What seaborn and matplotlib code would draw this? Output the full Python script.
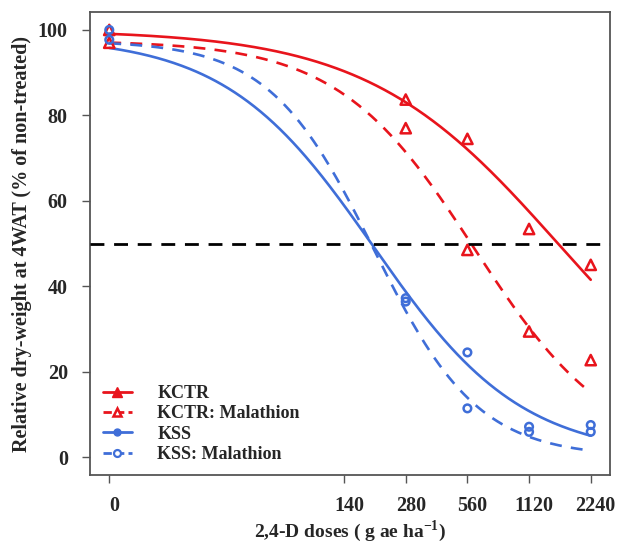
import numpy as np
import pandas as pd
import matplotlib
matplotlib.use("Agg")
import matplotlib.pyplot as plt
import matplotlib.transforms as mtransforms
from matplotlib.lines import Line2D
import seaborn as sns

# Observed means (% of non-treated) at each 2,4-D dose
doses = [0, 280, 560, 1120, 2240]
kctr = [100.0, 83.7, 74.5, 53.4, 45.0]
kctr_mal = [97.0, 77.0, 48.5, 29.4, 22.7]
kss = [100.0, 37.2, 24.5, 7.1, 7.5]
kss_mal = [97.7, 36.4, 11.4, 5.9, 5.9]

# Three-parameter log-logistic fits: upper limit, slope, ED50
groups = ["KCTR", "KCTR: Malathion", "KSS", "KSS: Malathion"]
upper = [100.0, 97.5, 98.5, 97.5]
slope = [0.93, 1.30, 1.20, 1.70]
ed50 = [1549.0, 607.0, 195.0, 195.0]

tick_doses = [0, 140, 280, 560, 1120, 2240]
zero_pos = 10.0  # where the untreated control sits on the log axis

RED = "#E8141C"
BLUE = "#3F6ED8"
colors = [RED, RED, BLUE, BLUE]
styles = ["-", (0, (4.5, 3.5)), "-", (0, (4.5, 3.5))]
markers = ["^", "^", "o", "o"]
observed = [kctr, kctr_mal, kss, kss_mal]

sns.set_style("ticks")
plt.rcParams["font.family"] = ["Liberation Serif", "DejaVu Serif"]
plt.rcParams["font.weight"] = "bold"
plt.rcParams["mathtext.fontset"] = "custom"
plt.rcParams["mathtext.rm"] = "Liberation Serif:bold"
plt.rcParams["mathtext.bf"] = "Liberation Serif:bold"

fig = plt.figure(figsize=(6.31, 5.43), dpi=100)
ax = fig.add_axes([90 / 631, 1 - 475 / 543, 520 / 631, 463 / 543])

def dose_axis(d):
    d = np.asarray(d, dtype=float)
    return np.where(d == 0, zero_pos, d)

grid = np.logspace(np.log10(zero_pos), np.log10(2240), 300)
for g, c, ls, d, b, e in zip(groups, colors, styles, upper, slope, ed50):
    fit = d / (1 + (grid / e) ** b)
    sns.lineplot(x=grid, y=fit, ax=ax, color=c, linestyle=ls, linewidth=1.9,
                 estimator=None, sort=False)

for g, c, m, obs in zip(groups, colors, markers, observed):
    df = pd.DataFrame({"dose": dose_axis(doses), "y": obs})
    size = 55 if m == "^" else 30
    sns.scatterplot(data=df, x="dose", y="y", ax=ax, marker=m, s=size,
                    facecolor="none", edgecolor=c, linewidth=1.8, zorder=4)

ax.axhline(50, color="black", linestyle=(0, (5, 3.5)), linewidth=2.0, zorder=3)

ax.set_xscale("log")
lo, hi = np.log10(zero_pos), np.log10(2240)
pad = 0.04 * (hi - lo)
ax.set_xlim(10 ** (lo - pad), 10 ** (hi + pad))
ax.set_ylim(-4.2, 104.2)
ax.set_xticks(dose_axis(tick_doses))
ax.set_xticklabels([str(t) for t in tick_doses])
ax.xaxis.set_minor_locator(matplotlib.ticker.NullLocator())
ax.set_yticks([0, 20, 40, 60, 80, 100])

ax.tick_params(axis="both", length=6, width=1.0, color="#555555",
               labelsize=14.5, pad=10)
ax.tick_params(axis="x", pad=9)
for lab in ax.get_xticklabels() + ax.get_yticklabels():
    lab.set_fontweight("bold")
shift = mtransforms.ScaledTranslation(5 / 100, 0, fig.dpi_scale_trans)
for lab in ax.get_xticklabels():
    lab.set_transform(lab.get_transform() + shift)

for sp in ax.spines.values():
    sp.set_color("#555555")
    sp.set_linewidth(1.3)

ax.set_xlabel(r"2,4-D doses ( g ae ha$^{-1}$)", fontsize=14, fontweight="bold",
              labelpad=1.5)
ax.set_ylabel("Relative dry-weight at 4WAT (% of non-treated)", fontsize=14.5,
              fontweight="bold", labelpad=4)

handles = [
    Line2D([], [], color=RED, linestyle="-", linewidth=2, marker="^",
           markersize=7, markerfacecolor=RED, markeredgecolor=RED),
    Line2D([], [], color=RED, linestyle=(0, (3, 1.5)), linewidth=2, marker="^",
           markersize=6, markerfacecolor="white", markeredgecolor=RED,
           markeredgewidth=1.8),
    Line2D([], [], color=BLUE, linestyle="-", linewidth=2, marker="o",
           markersize=5, markerfacecolor=BLUE, markeredgecolor=BLUE),
    Line2D([], [], color=BLUE, linestyle=(0, (3, 1.5)), linewidth=2, marker="o",
           markersize=5, markerfacecolor="white", markeredgecolor=BLUE,
           markeredgewidth=1.6),
]
leg = ax.legend(handles, groups, loc="lower left", bbox_to_anchor=(0.025, 0.026),
                frameon=False, handlelength=1.6, handletextpad=1.4,
                labelspacing=0.18, borderpad=0, borderaxespad=0,
                prop={"family": "Liberation Serif", "weight": "bold", "size": 13})

fig.savefig("out.png", dpi=100)
